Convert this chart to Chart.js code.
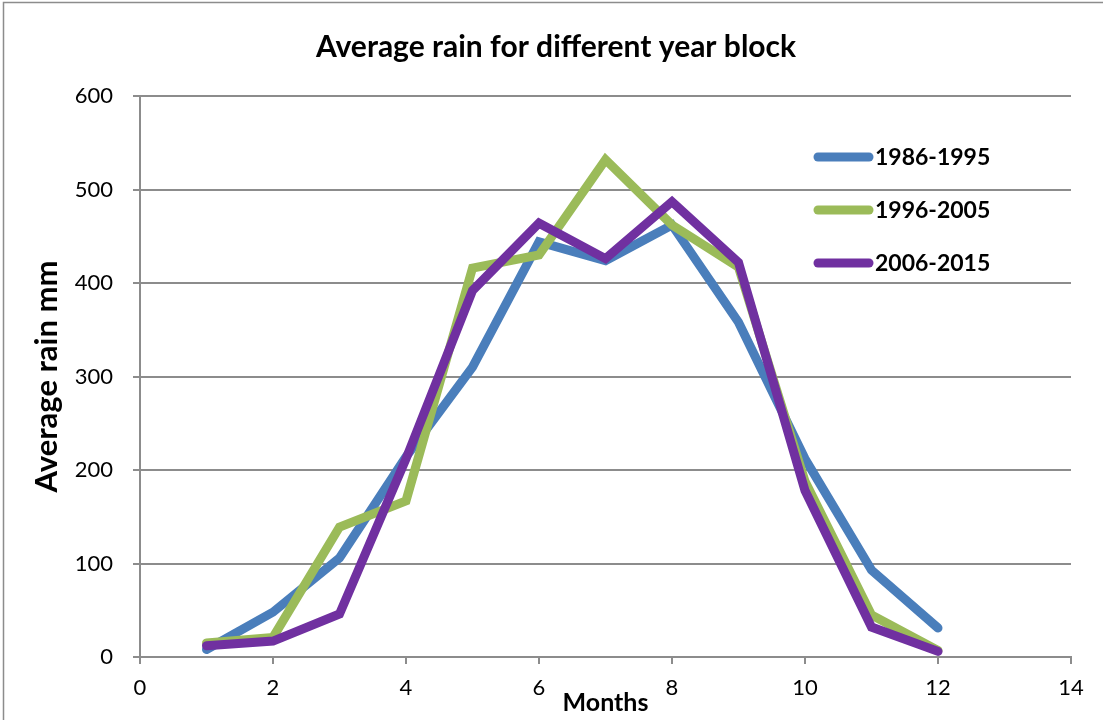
<!DOCTYPE html>
<html>
<head>
<meta charset="utf-8">
<script src="https://cdn.jsdelivr.net/npm/chart.js@4"></script>
<style>
  html, body { margin: 0; padding: 0; background: #fff; }
  #wrap { width: 1103px; height: 720px; position: relative; }
</style>
</head>
<body>
<div id="wrap"><canvas id="myChart" width="1103" height="720"></canvas></div>
<script>
// monthly average rain (mm) per block of years
var months = [1, 2, 3, 4, 5, 6, 7, 8, 9, 10, 11, 12];
var rain_86_95 = [8, 48, 106, 214, 310, 444, 424, 462, 358, 212, 93, 31];
var rain_96_05 = [15, 21, 139, 167, 416, 430, 532, 462, 417, 188, 45, 7];
var rain_06_15 = [12, 17, 46, 212, 392, 464, 426, 487, 422, 178, 32, 6];
var series_names = ['1986-1995', '1996-2005', '2006-2015'];
var series_colors = ['#4A7EBB', '#9BBB59', '#7030A0'];
var x_ticks = [0, 2, 4, 6, 8, 10, 12, 14];
var y_ticks = [0, 100, 200, 300, 400, 500, 600];

var FONT = 'Lato, "Open Sans", sans-serif';
var GRID = '#8c8c8c';

function points(vals){
    return months.map(function(m, i){ return {x: m, y: vals[i]}; });
}

var all_series = [rain_86_95, rain_96_05, rain_06_15];
var datasets = all_series.map(function(vals, i){
    return {
        label: series_names[i],
        data: points(vals),
        borderColor: series_colors[i],
        backgroundColor: series_colors[i],
        borderWidth: 9,
        pointRadius: 0,
        borderCapStyle: 'round',
        borderJoinStyle: 'miter',
        tension: 0,
        fill: false,
        // later series are painted over earlier ones
        order: all_series.length - i
    };
});

// frame, title, axis titles and the in-plot legend
var decorations = {
    id: 'decorations',
    beforeDraw: function(chart){
        var c = chart.ctx;
        c.save();
        c.fillStyle = '#fff';
        c.fillRect(0, 0, chart.width, chart.height);
        c.strokeStyle = '#8c8c8c';
        c.lineWidth = 1.5;
        c.beginPath();
        c.moveTo(3.5, chart.height);
        c.lineTo(3.5, 2.5);
        c.lineTo(chart.width, 2.5);
        c.stroke();
        c.restore();
    },
    afterDraw: function(chart){
        var c = chart.ctx;
        var area = chart.chartArea;
        c.save();
        c.fillStyle = '#000';
        c.textAlign = 'center';
        c.textBaseline = 'middle';
        c.font = 'bold 30px ' + FONT;
        c.fillText('Average rain for different year block', 556, 47);

        c.font = 'bold 25px ' + FONT;
        c.fillText('Months', (area.left + area.right) / 2, 703);

        c.save();
        c.translate(47, (area.top + area.bottom) / 2);
        c.rotate(-Math.PI / 2);
        c.font = 'bold 31px ' + FONT;
        c.fillText('Average rain mm', 0, 0);
        c.restore();

        // legend
        c.textAlign = 'left';
        c.font = 'bold 23px ' + FONT;
        chart.data.datasets.forEach(function(ds, i){
            var y = 157 + i * 53;
            c.strokeStyle = ds.borderColor;
            c.lineWidth = 9;
            c.lineCap = 'round';
            c.beginPath();
            c.moveTo(818, y);
            c.lineTo(869, y);
            c.stroke();
            c.fillStyle = '#000';
            c.fillText(ds.label, 875, y + 1);
        });
        c.restore();
    }
};

var ctx = document.getElementById('myChart').getContext('2d');
var myChart = new Chart(ctx, {
    type: 'line',
    data: { datasets: datasets },
    plugins: [decorations],
    options: {
        responsive: false,
        animation: false,
        layout: { padding: { top: 96, right: 32, left: 0, bottom: 0 } },
        plugins: {
            legend: { display: false },
            title: { display: false },
            tooltip: { enabled: false }
        },
        scales: {
            x: {
                type: 'linear',
                min: 0,
                max: 14,
                afterBuildTicks: function(scale){
                    scale.ticks = x_ticks.map(function(v){ return {value: v}; });
                },
                afterFit: function(scale){ scale.height = 63; },
                grid: {
                    drawOnChartArea: false,
                    drawTicks: true,
                    tickLength: 7,
                    color: GRID,
                    lineWidth: 2
                },
                border: { color: GRID, width: 2 },
                ticks: {
                    color: '#000',
                    padding: 11,
                    maxRotation: 0,
                    font: { family: FONT, size: 22 }
                }
            },
            y: {
                type: 'linear',
                min: 0,
                max: 600,
                afterBuildTicks: function(scale){
                    scale.ticks = y_ticks.map(function(v){ return {value: v}; });
                },
                afterFit: function(scale){ scale.width = 140; },
                grid: {
                    drawTicks: true,
                    tickLength: 7,
                    color: GRID,
                    lineWidth: 2
                },
                border: { color: GRID, width: 2 },
                ticks: {
                    color: '#000',
                    padding: 20,
                    font: { family: FONT, size: 22 }
                }
            }
        }
    }
});
</script>
</body>
</html>
